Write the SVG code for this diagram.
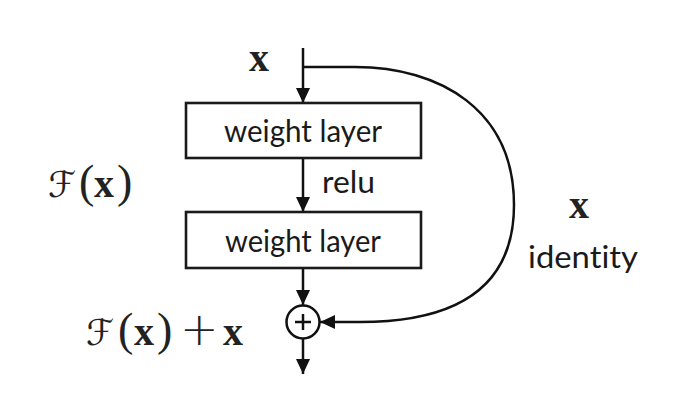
<svg xmlns="http://www.w3.org/2000/svg" width="673" height="408" viewBox="0 0 673 408">
<style>
.box{fill:#fff;stroke:#1a1a1a;stroke-width:2.6}
.ln{fill:none;stroke:#111;stroke-width:2.5}
.lbl{font-family:Lato,"Open Sans","Liberation Sans",sans-serif;font-size:30px;fill:#1a1a1a;font-variant-ligatures:none}
.m{font-family:"Liberation Serif","DejaVu Serif",serif;font-size:42px;fill:#222}
.mb{font-weight:bold;font-size:40px}
.par{font-size:46px;font-weight:normal}
.pl{font-size:46px;font-family:"DejaVu Sans",sans-serif;font-weight:200}
.cal{font-family:"DejaVu Serif","DejaVu Sans",serif;font-style:italic;font-size:36px}
</style>
<defs>
<marker id="ah" markerUnits="userSpaceOnUse" markerWidth="16" markerHeight="16" viewBox="0 0 16 16" refX="15" refY="8" orient="auto">
<path d="M0,1 L15,8 L0,15 Z" fill="#111"/>
</marker>
</defs>
<rect width="673" height="408" fill="#fff"/>
<g id="connectors">
<line class="ln" x1="303" y1="48" x2="303" y2="103" marker-end="url(#ah)"/>
<line class="ln" x1="303" y1="158" x2="303" y2="212" marker-end="url(#ah)"/>
<line class="ln" x1="303" y1="268" x2="303" y2="305" marker-end="url(#ah)"/>
<line class="ln" x1="303" y1="339" x2="303" y2="374" marker-end="url(#ah)"/>
<path class="ln" d="M303,67 H355 C440,67 514,110 514,205 C514,285 460,322 360,322 H320" marker-end="url(#ah)"/>
</g>
<g id="input-x"><text class="m mb" x="249" y="71">x</text></g>
<g id="weight1">
<rect class="box" x="186" y="103" width="235" height="55"/>
<text class="lbl" x="303" y="142" text-anchor="middle" textLength="158" lengthAdjust="spacingAndGlyphs">weight layer</text>
</g>
<g id="relu"><text class="lbl" x="322" y="193" textLength="53" lengthAdjust="spacingAndGlyphs">relu</text></g>
<g id="weight2">
<rect class="box" x="186" y="212" width="235" height="56"/>
<text class="lbl" x="303" y="252" text-anchor="middle" textLength="156" lengthAdjust="spacingAndGlyphs">weight layer</text>
</g>
<g id="Fx-label">
<text class="m" y="197"><tspan class="cal" x="48">ℱ</tspan><tspan class="par" x="79">(</tspan><tspan class="mb" x="94">x</tspan><tspan class="par" x="117">)</tspan></text>
</g>
<g id="sum">
<circle cx="303" cy="322" r="16.5" fill="#fff" stroke="#111" stroke-width="2.5"/>
<line class="ln" x1="295" y1="322" x2="311" y2="322"/>
<line class="ln" x1="303" y1="314" x2="303" y2="330"/>
</g>
<g id="sum-label">
<text class="m" y="345"><tspan class="cal" x="86">ℱ</tspan><tspan class="par" x="118">(</tspan><tspan class="mb" x="134">x</tspan><tspan class="par" x="157">)</tspan><tspan class="pl" x="180">+</tspan><tspan class="mb" x="223">x</tspan></text>
</g>
<g id="identity">
<text class="m mb" x="569" y="218">x</text>
<text class="lbl" x="528" y="268" textLength="110" lengthAdjust="spacingAndGlyphs">identity</text>
</g>
</svg>
